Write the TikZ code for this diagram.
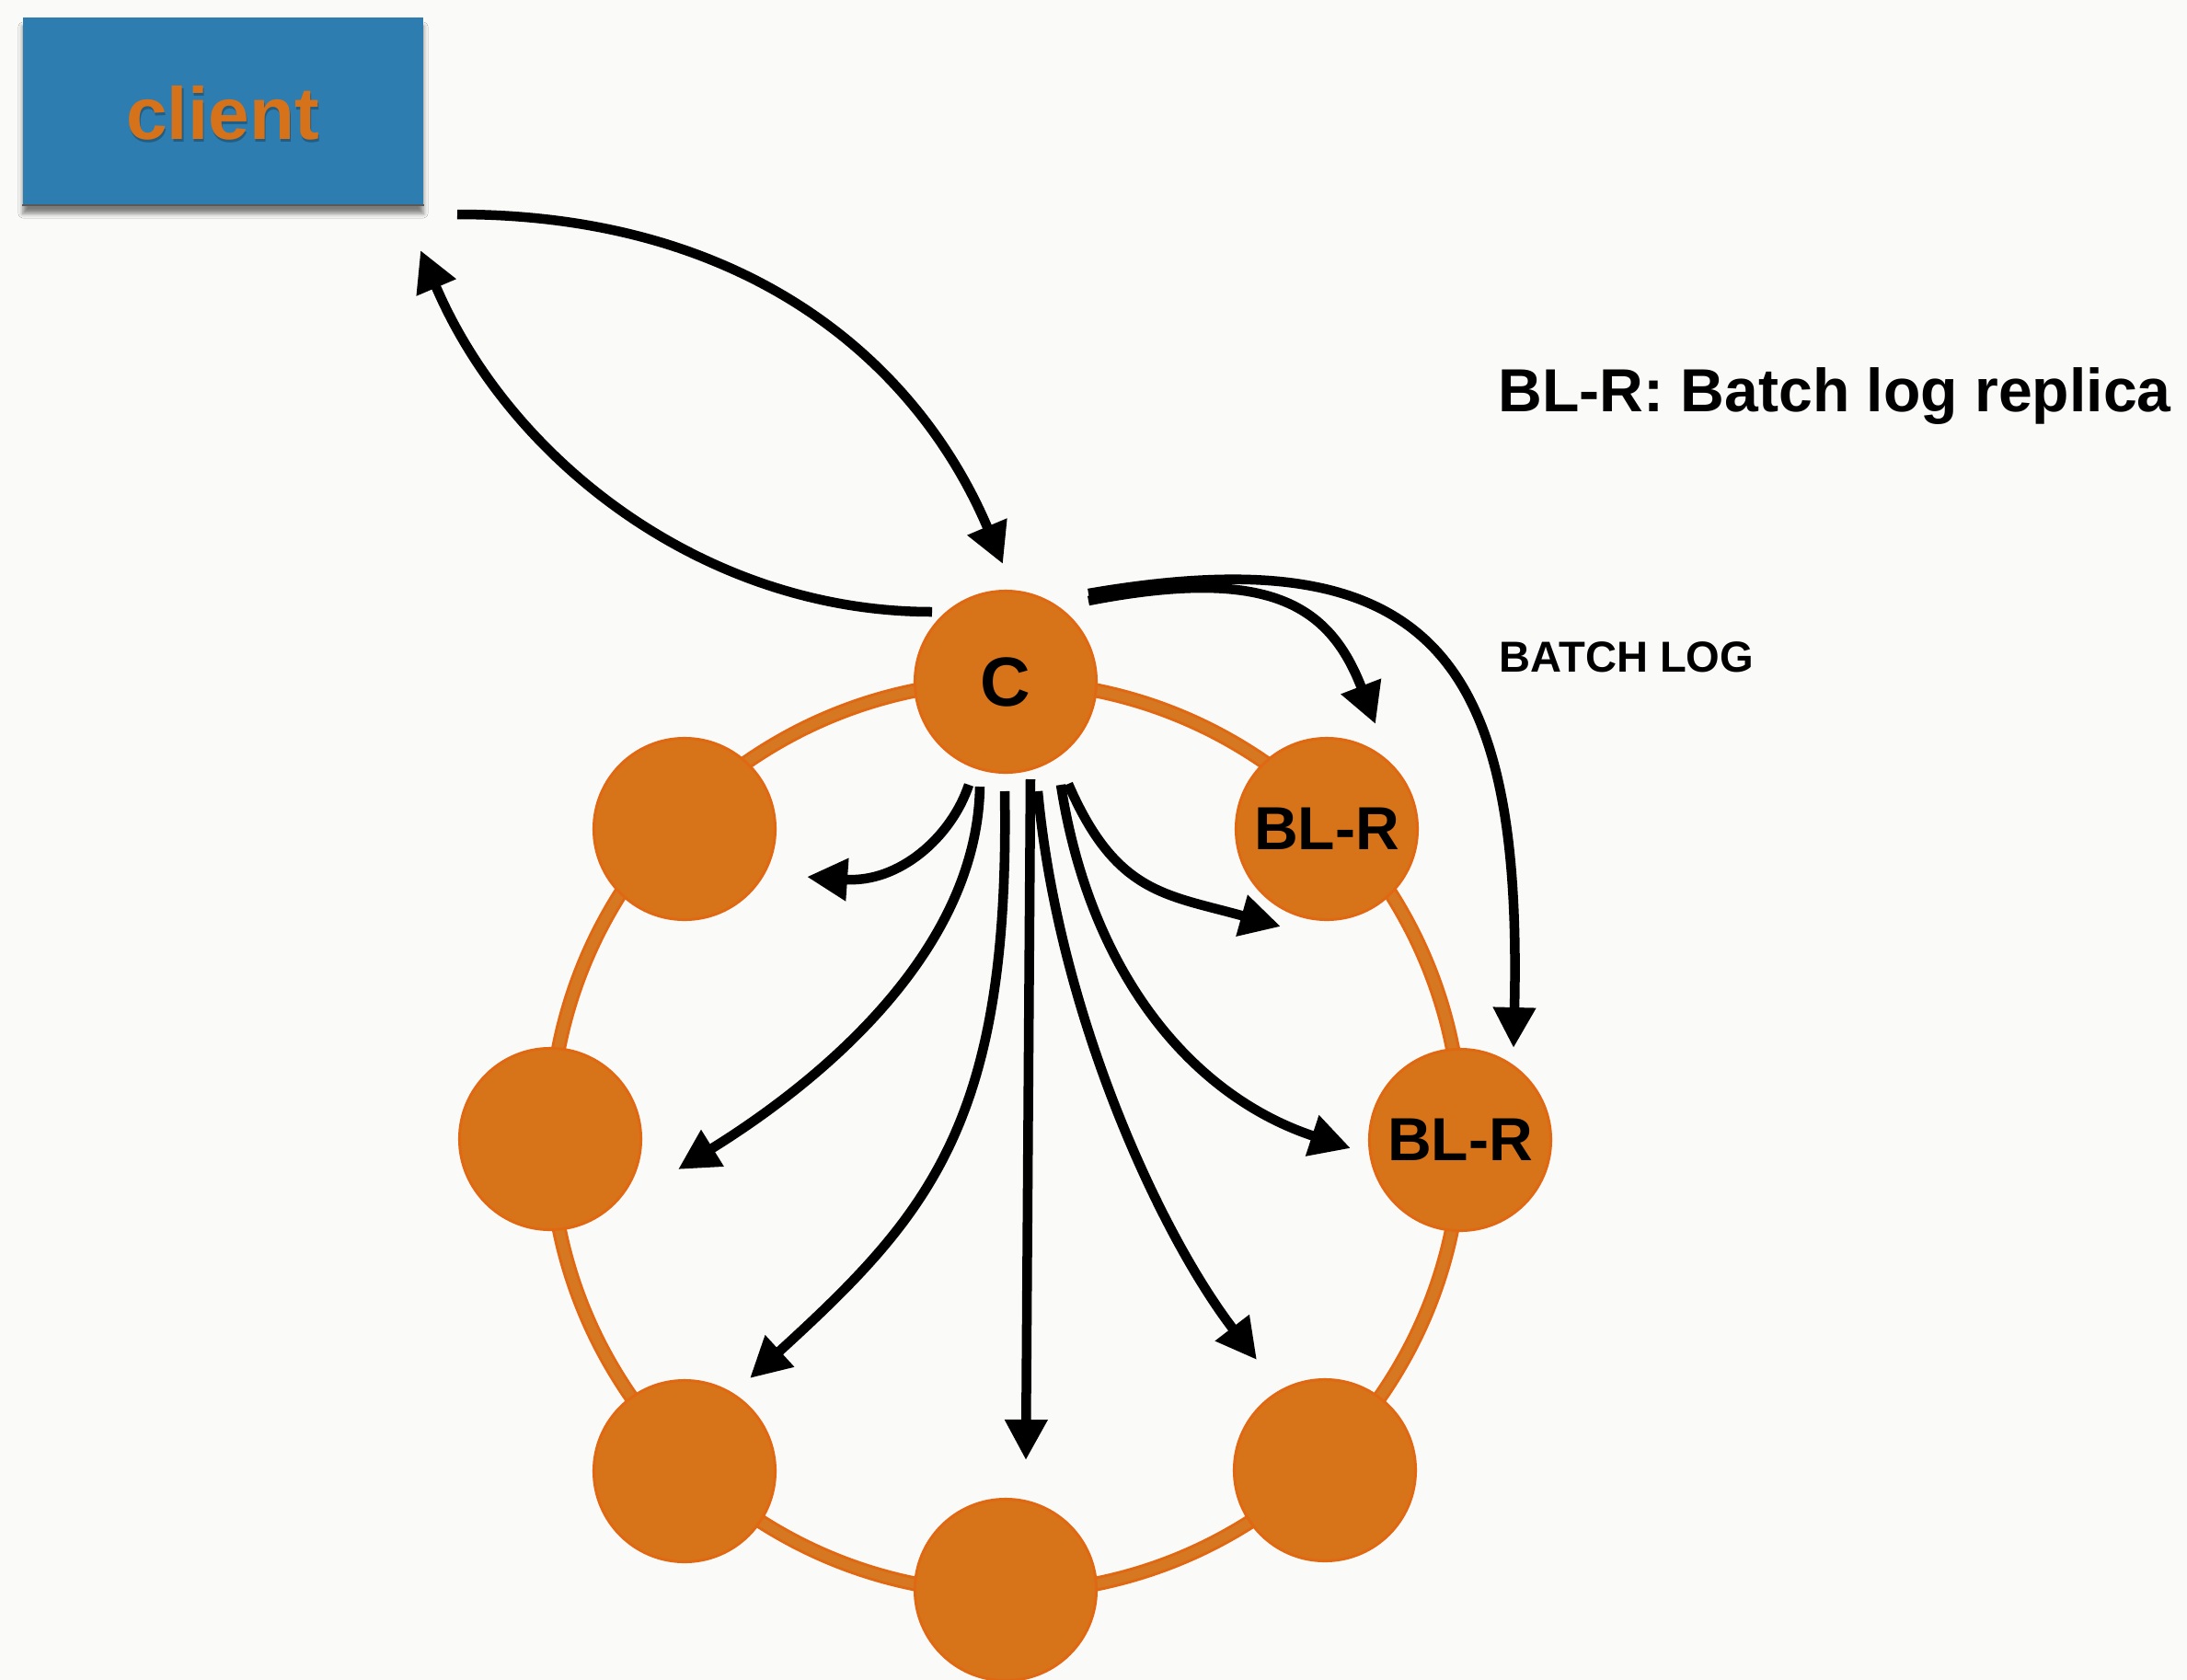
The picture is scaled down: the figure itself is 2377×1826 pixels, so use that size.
\documentclass[tikz,border=0pt]{standalone}
\usepackage{fontspec}
\setmainfont{Liberation Sans}
\usetikzlibrary{arrows.meta,shadows.blur}
\definecolor{paper}{RGB}{250,250,248}
\definecolor{nodefill}{RGB}{215,116,26}
\definecolor{nodeedge}{RGB}{224,104,18}
\definecolor{ringfill}{RGB}{214,120,34}
\definecolor{clientblue}{RGB}{46,125,176}
\definecolor{clienttext}{RGB}{214,114,26}
\begin{document}
\begin{tikzpicture}[x=0.01cm,y=-0.01cm,
  server/.style={circle, fill=nodefill, draw=nodeedge, line width=0.03cm,
    minimum size=1.97cm, inner sep=0pt,
    font=\fontsize{18.8}{20}\selectfont\bfseries},
  msg/.style={line width=0.105cm, -{Triangle[length=0.44cm,width=0.44cm]}},
  title/.style={anchor=base west, inner sep=0pt}]

% page and background
\useasboundingbox (0,0) rectangle (2377,1826);
\fill[paper] (0,0) rectangle (2377,1826);

% client box with drop shadow
\node[fill=clientblue, minimum width=4.35cm, minimum height=2.03cm, inner sep=0pt,
  blur shadow={shadow xshift=0cm, shadow yshift=-0.1cm, shadow blur radius=0.05cm, shadow opacity=50}]
  (client) at (242.5,120.5) {};
\draw[black!65, line width=0.02cm] (client.south west) -- (client.south east);
\node[text=black, opacity=0.25, font=\fontsize{22.8}{26}\selectfont\bfseries]
  (clientshade) at (243.5,126) {client};
\node[text=clienttext, font=\fontsize{22.8}{26}\selectfont\bfseries]
  (clientlabel) at (242,123) {client};

% ring joining the servers
\draw[nodeedge, line width=0.16cm] (1093,1236) circle[radius=4.95cm];
\draw[ringfill, line width=0.1cm] (1093,1236) circle[radius=4.95cm];

% servers
\node[server, font=\fontsize{21.5}{23}\selectfont\bfseries] (c) at (1093,741) {C};
\node[server] (r1) at (1442,901)  {BL-R};
\node[server] (r2) at (1587,1239) {BL-R};
\node[server] (r3) at (1440,1598) {};
\node[server] (r4) at (1093,1728) {};
\node[server] (r5) at (744,1599)  {};
\node[server] (r6) at (598,1238)  {};
\node[server] (r7) at (744,901)   {};

% legend
\node[title, font=\fontsize{18.8}{21}\selectfont\bfseries] (legend) at (1628,447) {BL-R: Batch log replica};
\node[title, font=\fontsize{13.4}{15}\selectfont\bfseries] (batchlog) at (1629,730) {BATCH LOG};

% connector end points
\coordinate (cl-out) at (497,233);
\coordinate (c-in)   at (1090,613);
\coordinate (c-out)  at (1013,665);
\coordinate (cl-in)  at (457,272);
\coordinate (c-r1)   at (1183,653);
\coordinate (r1-in)  at (1495,787);
\coordinate (c-r2)   at (1183,645);
\coordinate (r2-in)  at (1645,1139);
\coordinate (fa) at (1053,853);  \coordinate (ta) at (877,953);
\coordinate (fb) at (1065,855);  \coordinate (tb) at (737,1271);
\coordinate (fc) at (1092,860);  \coordinate (tc) at (815,1498);
\coordinate (fd) at (1120,847);  \coordinate (td) at (1115,1587);
\coordinate (fe) at (1128,860);  \coordinate (te) at (1366,1478);
\coordinate (ff) at (1153,853);  \coordinate (tf) at (1468,1248);
\coordinate (fg) at (1161,852);  \coordinate (tg) at (1392,1007);

% request and reply between client and coordinator
\draw[msg] (cl-out) .. controls (820,233) and (1000,400) .. (c-in);
\draw[msg] (c-out) .. controls (765,665) and (554,500) .. (cl-in);

% batch log to the two replicas
\draw[msg] (c-r1) .. controls (1379,615) and (1445,657) .. (r1-in);
\draw[msg] (c-r2) .. controls (1560,580) and (1655,720) .. (r2-in);

% writes fanned out from the coordinator
\draw[msg] (fa) .. controls (1034,910) and (977,960) .. (ta);
\draw[msg] (fb) .. controls (1062,1030) and (900,1170) .. (tb);
\draw[msg] (fc) .. controls (1098,1220) and (1010,1320) .. (tc);
\draw[msg] (fd) -- (td);
\draw[msg] (fe) .. controls (1150,1100) and (1260,1340) .. (te);
\draw[msg] (ff) .. controls (1185,1060) and (1297,1192) .. (tf);
\draw[msg] (fg) .. controls (1213,972) and (1267,972) .. (tg);
\end{tikzpicture}
\end{document}
